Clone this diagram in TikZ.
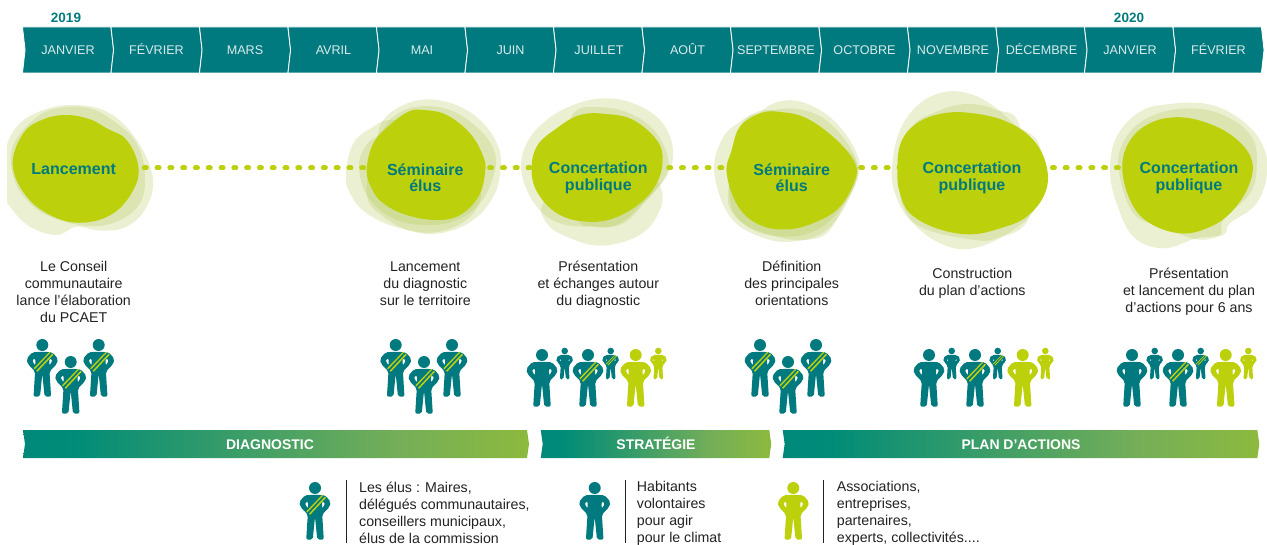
\documentclass[tikz,border=0pt]{standalone}
\usepackage{fontspec}
\setmainfont{Liberation Sans}
\usetikzlibrary{shapes.symbols}

\definecolor{tealmain}{HTML}{007A7E}
\definecolor{tealmid}{HTML}{008C78}
\definecolor{greenmid}{HTML}{74AE58}
\definecolor{limemain}{HTML}{BCD00C}
\definecolor{blobtint}{HTML}{A8C040}
\definecolor{bodytext}{HTML}{222222}
\pgfdeclarehorizontalshading{stagefade}{100bp}{color(0bp)=(tealmain); color(30bp)=(tealmid); color(62bp)=(greenmid); color(100bp)=(limemain)}

\tikzset{
  monthcell/.style={signal, signal to=east, signal from=west, signal pointer angle=167, fill=tealmain, draw=white, line width=0.8pt, minimum width=91pt, minimum height=46pt, inner sep=0pt, text height=9.4pt, text depth=0pt, text=white!85!tealmain, font=\fontsize{12.6}{16}\selectfont},
  yearlabel/.style={text=tealmain, font=\fontsize{13.5}{16}\bfseries\selectfont},
  stagebar/.style={signal, signal to=east, signal from=west, signal pointer angle=164, shading=stagefade, minimum height=28pt, inner sep=0pt, text height=10pt, text depth=0pt, text=white, font=\fontsize{14}{16}\bfseries\selectfont},
  eventlabel/.style={align=center, inner sep=0pt, text=tealmain, font=\fontsize{16}{16.3}\bfseries\selectfont},
  eventtext/.style={align=center, inner sep=0pt, text=bodytext, font=\fontsize{14.2}{17}\selectfont},
  legendtext/.style={align=left, anchor=west, inner sep=0pt, text=bodytext, font=\fontsize{14.2}{17}\selectfont},
  legendrule/.style={draw=bodytext, line width=0.9pt},
  blobgrid/.style={shift={#1}, scale=1/3},
  blobpale/.style={fill=blobtint, fill opacity=0.23},
  blobline/.style={smooth cycle, tension=0.65},
  dotline/.style={draw=limemain, line width=5pt, line cap=round, dash pattern=on 2pt off 10.79pt},
  pics/person/.style={code={
    \fill[#1, even odd rule, rounded corners=2pt] (0,6.8) -- (10,7.2) -- (15.8,14) -- (14.5,19) -- (7.2,26.5) -- (8.8,51.7) -- (2.3,51.7) -- (0,29) -- (-2.3,51.7) -- (-8.8,51.7) -- (-7.2,26.5) -- (-14.5,19) -- (-15.8,14) -- (-10,7.2) -- cycle
      (7,13.2) -- (10.4,15.2) -- (7,20.8) -- cycle (-7,13.2) -- (-10.4,15.2) -- (-7,20.8) -- cycle;
    \fill[#1] (0,0) circle (6);
  }},
  pics/sash/.style={code={
    \fill[limemain] (-4.9,26.8) -- (11,9.8) -- (9.9,8.7) -- (-6,25.7) -- cycle;
    \fill[limemain] (-7.5,24.3) -- (8.4,7.4) -- (7.3,6.8) -- (-8.6,23.2) -- cycle;
  }}
}

\begin{document}
\begin{tikzpicture}[x=1pt, y=-1pt]
  \useasboundingbox (0,0) rectangle (1267,545);

  % calendar
  \node[yearlabel] (yearA) at (66,17.5) {2019};
  \node[yearlabel] (yearB) at (1129,17.5) {2020};
  \node[monthcell] (janA) at (68,50) {JANVIER};
  \node[monthcell] (fevA) at (156.5,50) {FÉVRIER};
  \node[monthcell] (mar) at (245,50) {MARS};
  \node[monthcell] (avr) at (333.5,50) {AVRIL};
  \node[monthcell] (mai) at (422,50) {MAI};
  \node[monthcell] (jun) at (510.5,50) {JUIN};
  \node[monthcell] (jul) at (599,50) {JUILLET};
  \node[monthcell] (aou) at (687.5,50) {AOÛT};
  \node[monthcell] (sep) at (776,50) {SEPTEMBRE};
  \node[monthcell] (oct) at (864.5,50) {OCTOBRE};
  \node[monthcell] (nov) at (953,50) {NOVEMBRE};
  \node[monthcell] (dec) at (1041.5,50) {DÉCEMBRE};
  \node[monthcell] (janB) at (1130,50) {JANVIER};
  \node[monthcell] (fevB) at (1218.5,50) {FÉVRIER};

  % pale blobs
  \begin{scope}
    \clip (7,90) rectangle (170,250);
    \begin{scope}[blobgrid={(0,0)}]
      \fill[blobpale] plot[blobline] coordinates {(10,470) (50,380) (130,330) (230,315) (330,340) (410,420) (458,530) (440,620) (380,680) (300,692) (230,680) (170,705) (90,680) (30,620) (0,560)};
      \fill[blobpale] plot[blobline] coordinates {(38,440) (100,360) (170,325) (270,325) (350,370) (410,430) (435,520) (420,610) (350,665) (260,678) (150,650) (80,600) (40,530)};
    \end{scope}
  \end{scope}
  \begin{scope}[blobgrid={(340,90)}]
    \fill[blobpale] plot[blobline] coordinates {(18,250) (40,160) (100,110) (160,90) (260,130) (350,200) (420,280) (400,370) (300,425) (180,415) (80,370) (30,310)};
    \fill[blobpale] plot[blobline] coordinates {(110,150) (130,90) (190,45) (270,28) (360,50) (430,100) (475,170) (482,240) (460,320) (400,390) (310,428) (220,425) (130,380) (80,310)};
    \fill[blobpale] plot[blobline] coordinates {(57,240) (75,170) (120,130) (160,80) (230,50) (330,60) (420,120) (465,190) (460,260) (420,340) (350,390) (270,405) (170,390) (90,330)};
    \fill[blobpale] plot[blobline] coordinates {(545,250) (560,160) (620,90) (700,45) (790,25) (880,40) (960,90) (998,170) (985,250) (920,330) (850,400) (760,410) (660,400) (590,350)};
    \fill[blobpale] plot[blobline] coordinates {(610,340) (700,300) (800,250) (900,230) (965,300) (950,380) (890,440) (780,467) (680,440) (620,400)};
    \fill[blobpale] plot[blobline] coordinates {(700,70) (790,52) (880,75) (950,130) (985,210) (970,270) (900,350) (830,405) (760,410) (710,380) (680,200)};
  \end{scope}
  \begin{scope}[blobgrid={(660,90)}]
    \fill[blobpale] plot[blobline] coordinates {(163,250) (185,150) (240,95) (320,60) (420,90) (520,150) (590,220) (570,320) (500,420) (400,455) (300,440) (210,380)};
    \fill[blobpale] plot[blobline] coordinates {(300,68) (370,32) (450,45) (530,100) (590,190) (595,260) (550,350) (500,430) (430,450) (350,440) (250,400) (210,330) (220,170)};
    \fill[blobpale] plot[blobline] coordinates {(240,110) (320,65) (420,58) (510,100) (585,200) (585,280) (530,370) (470,420) (390,440) (290,425) (220,370) (205,300)};
  \end{scope}
  \begin{scope}[blobgrid={(880,80)}]
    \fill[blobpale] plot[blobline] coordinates {(36,260) (60,150) (120,70) (200,35) (280,45) (350,85) (400,130) (480,200) (470,370) (400,450) (280,505) (180,490) (90,420) (45,340)};
    \fill[blobpale] plot[blobline] coordinates {(60,300) (90,150) (170,95) (260,72) (350,90) (420,140) (450,400) (350,475) (250,475) (120,440) (70,380)};
    \fill[blobpale] plot[blobline] coordinates {(690,270) (710,170) (780,95) (870,72) (980,72) (1070,110) (1140,180) (1162,270) (1130,370) (1050,430) (1030,465) (950,475) (850,505) (760,470) (710,370)};
    \fill[blobpale] plot[blobline] coordinates {(715,260) (740,170) (810,110) (920,85) (1030,105) (1115,170) (1130,260) (1110,340) (1030,420) (1020,465) (950,478) (850,440) (760,400)};
  \end{scope}

  % dotted links, hidden under the solid blobs
  \coordinate (hubA) at (80.35,168);
  \coordinate (hubB) at (425.7,168);
  \coordinate (hubC) at (591.95,168);
  \coordinate (hubD) at (783.8,168);
  \coordinate (hubE) at (962.9,168);
  \coordinate (hubF) at (1218.7,168);
  \draw[dotline] (hubA) -- (hubB);
  \draw[dotline] (hubB) -- (hubC);
  \draw[dotline] (hubC) -- (hubD);
  \draw[dotline] (hubD) -- (hubE);
  \draw[dotline] (hubE) -- (hubF);

  % solid blobs
  \begin{scope}[blobgrid={(0,0)}]
    \fill[limemain] plot[blobline] coordinates {(38,495) (70,400) (130,358) (200,345) (270,358) (320,385) (380,420) (415,500) (400,570) (340,640) (250,668) (160,650) (80,590)};
  \end{scope}
  \begin{scope}[blobgrid={(340,90)}]
    \fill[limemain] plot[blobline] coordinates {(80,240) (100,160) (150,105) (205,65) (250,60) (320,75) (390,130) (430,200) (435,250) (415,320) (360,375) (290,390) (200,375) (130,340) (95,295)};
    \fill[limemain] plot[blobline] coordinates {(575,250) (590,170) (650,115) (720,75) (800,72) (880,90) (950,150) (968,210) (950,280) (900,340) (820,385) (740,395) (660,375) (600,320)};
  \end{scope}
  \begin{scope}[blobgrid={(660,90)}]
    \fill[limemain] plot[blobline] coordinates {(200,250) (215,180) (240,110) (300,70) (360,66) (440,85) (530,150) (585,220) (585,270) (540,350) (470,395) (385,418) (300,405) (235,350)};
  \end{scope}
  \begin{scope}[blobgrid={(880,80)}]
    \fill[limemain] plot[blobline] coordinates {(52,280) (62,190) (110,130) (190,100) (280,100) (380,125) (460,180) (500,260) (495,340) (440,410) (360,445) (270,463) (170,445) (90,400) (60,340)};
    \fill[limemain] plot[blobline] coordinates {(727,270) (745,190) (800,135) (880,112) (970,125) (1060,170) (1115,240) (1105,320) (1050,400) (980,445) (900,460) (810,430) (755,370)};
  \end{scope}

  % event names
  \node[eventlabel] (lancement) at (73.7,169) {Lancement};
  \node[eventlabel] (seminaireA) at (425.3,177.5) {Séminaire\\élus};
  \node[eventlabel] (concertA) at (598.3,178) {Concertation\\publique};
  \node[eventlabel] (seminaireB) at (791.7,177.5) {Séminaire\\élus};
  \node[eventlabel] (concertB) at (972,178) {Concertation\\publique};
  \node[eventlabel] (concertC) at (1189,178) {Concertation\\publique};

  % event descriptions
  \node[eventtext] (textA) at (73.7,292) {Le Conseil\\communautaire\\lance l’élaboration\\du PCAET};
  \node[eventtext] (textB) at (425.3,284) {Lancement\\du diagnostic\\sur le territoire};
  \node[eventtext] (textC) at (598.3,285) {Présentation\\et échanges autour\\du diagnostic};
  \node[eventtext] (textD) at (791.7,283.5) {Définition\\des principales\\orientations};
  \node[eventtext] (textE) at (972.3,283) {Construction\\du plan d’actions};
  \node[eventtext] (textF) at (1189,292) {Présentation\\et lancement du plan\\d’actions pour 6 ans};

  % people groups
  \pic at (42.3,345) {person=tealmain}; \pic at (42.3,345) {sash};
  \pic at (98.7,345) {person=tealmain}; \pic at (98.7,345) {sash};
  \pic at (70.7,362) {person=tealmain}; \pic at (70.7,362) {sash};
  \pic at (395.7,345) {person=tealmain}; \pic at (395.7,345) {sash};
  \pic at (452,345) {person=tealmain}; \pic at (452,345) {sash};
  \pic at (424,362) {person=tealmain}; \pic at (424,362) {sash};
  \pic at (760,345) {person=tealmain}; \pic at (760,345) {sash};
  \pic at (816,345) {person=tealmain}; \pic at (816,345) {sash};
  \pic at (788,362) {person=tealmain}; \pic at (788,362) {sash};

  \pic at (542,355) {person=tealmain};
  \pic[scale=0.55] at (564.7,351) {person=tealmain};
  \pic at (588,355) {person=tealmain}; \pic at (588,355) {sash};
  \pic[scale=0.55] at (610.7,351) {person=tealmain}; \pic[scale=0.55] at (610.7,351) {sash};
  \pic at (635.7,355) {person=limemain};
  \pic[scale=0.55] at (658.3,351) {person=limemain};

  \pic at (929,355) {person=tealmain};
  \pic[scale=0.55] at (951.7,351) {person=tealmain};
  \pic at (975,355) {person=tealmain}; \pic at (975,355) {sash};
  \pic[scale=0.55] at (997.7,351) {person=tealmain}; \pic[scale=0.55] at (997.7,351) {sash};
  \pic at (1022.7,355) {person=limemain};
  \pic[scale=0.55] at (1045.3,351) {person=limemain};

  \pic at (1132,355) {person=tealmain};
  \pic[scale=0.55] at (1154.7,351) {person=tealmain};
  \pic at (1178,355) {person=tealmain}; \pic at (1178,355) {sash};
  \pic[scale=0.55] at (1200.7,351) {person=tealmain}; \pic[scale=0.55] at (1200.7,351) {sash};
  \pic at (1225.7,355) {person=limemain};
  \pic[scale=0.55] at (1248.3,351) {person=limemain};

  % project phases
  \node[stagebar, minimum width=506pt] (diagnostic) at (276,444) {\hspace*{-12pt}DIAGNOSTIC};
  \node[stagebar, minimum width=230.5pt] (strategie) at (656,444) {STRATÉGIE};
  \node[stagebar, minimum width=476.6pt] (planactions) at (1021,444) {PLAN D’ACTIONS};

  % legend
  \pic at (315,488) {person=tealmain}; \pic at (315,488) {sash};
  \pic at (594.7,488) {person=tealmain};
  \pic at (793.3,488) {person=limemain};
  \draw[legendrule] (346,480) -- (346,543);
  \draw[legendrule] (625,480) -- (625,543);
  \draw[legendrule] (823.3,480) -- (823.3,543);
  \node[legendtext] (legendA) at (359,513) {Les élus : Maires,\\délégués communautaires,\\conseillers municipaux,\\élus de la commission};
  \node[legendtext] (legendB) at (636.7,513) {Habitants\\volontaires\\pour agir\\pour le climat};
  \node[legendtext] (legendC) at (836.7,513) {Associations,\\entreprises,\\partenaires,\\experts, collectivités....};
\end{tikzpicture}
\end{document}
